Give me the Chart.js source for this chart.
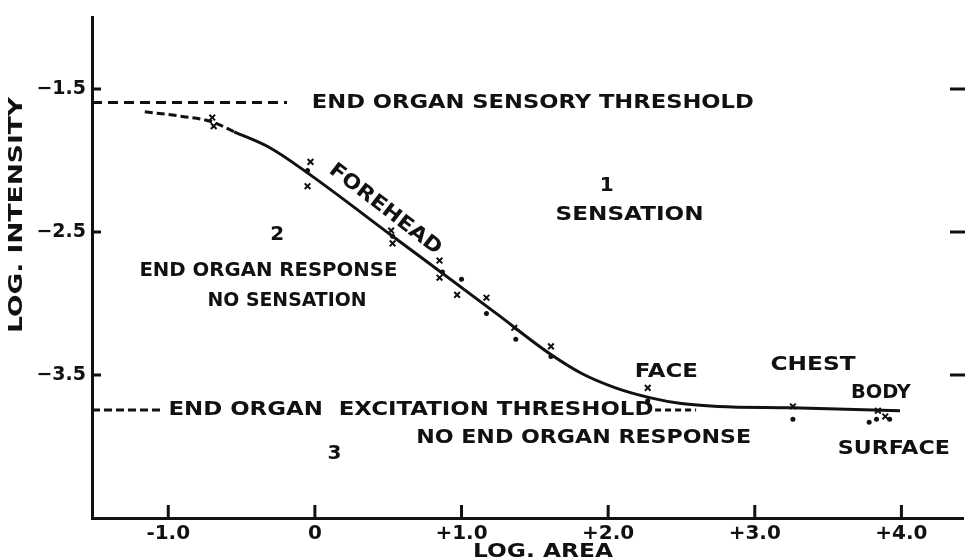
<!DOCTYPE html>
<html>
<head>
<meta charset="utf-8">
<script src="https://cdn.jsdelivr.net/npm/chart.js@4.4.1/dist/chart.umd.min.js"></script>
<style>
  html, body { margin: 0; padding: 0; background: #fff; }
  canvas { display: block; }
</style>
</head>
<body>
<canvas id="chart" width="969" height="560"></canvas>
<script>
// values: log area (x) against log intensity (y)
var curveX = [-1.16, -0.92, -0.70, -0.55, -0.31, -0.06, 0.53, 1.25, 1.60, 1.82, 2.05, 2.29, 2.50, 2.75, 3.25, 3.99];
var curveY = [-1.66, -1.69, -1.73, -1.80, -1.91, -2.08, -2.53, -3.08, -3.35, -3.49, -3.59, -3.66, -3.70, -3.72, -3.73, -3.75];

// measurements drawn as small crosses and dots
var crossX = [-0.70, -0.69, -0.03, -0.05, 0.52, 0.53, 0.85, 0.85, 0.97, 1.17, 1.36, 1.61, 2.27, 3.26, 3.84, 3.89];
var crossY = [-1.70, -1.76, -2.01, -2.18, -2.49, -2.58, -2.70, -2.82, -2.94, -2.96, -3.17, -3.30, -3.59, -3.72, -3.75, -3.79];
var dotX = [-0.05, 0.53, 0.87, 1.00, 1.17, 1.37, 1.61, 2.27, 3.26, 3.78, 3.83, 3.92];
var dotY = [-2.07, -2.53, -2.78, -2.83, -3.07, -3.25, -3.37, -3.68, -3.81, -3.83, -3.81, -3.81];

// threshold levels and where their dashed lines run
var sensoryY = -1.595;
var sensoryX = [-1.52, -0.19];
var excitationY = -3.745;
var excitationX1 = [-1.52, -1.03];
var excitationX2 = [2.32, 2.60];

var xTickValues = [-1, 0, 1, 2, 3, 4];
var xTickLabels = ['-1.0', '0', '+1.0', '+2.0', '+3.0', '+4.0'];
var yTickValues = [-3.5, -2.5, -1.5];
var yTickLabels = ['\u22123.5', '\u22122.5', '\u22121.5'];

var ink = '#111';
var FONT = '"DejaVu Sans", sans-serif';

function pts(xs, ys) {
  return xs.map(function (x, i) { return { x: x, y: Array.isArray(ys) ? ys[i] : ys }; });
}

// text on the plot, placed in data coordinates, w = printed width in px
var notes = [
  { text: 'END ORGAN SENSORY THRESHOLD', x: 1.486, y: -1.595, w: 442 },
  { text: '2', x: -0.257, y: -2.52 },
  { text: 'END ORGAN RESPONSE', x: -0.317, y: -2.77, w: 258 },
  { text: 'NO SENSATION', x: -0.19, y: -2.98, w: 159 },
  { text: '1', x: 1.99, y: -2.18 },
  { text: 'SENSATION', x: 2.146, y: -2.383, w: 148 },
  { text: 'FOREHEAD', x: 0.479, y: -2.342, w: 136, angle: 0.655 },
  { text: 'END ORGAN  EXCITATION THRESHOLD', x: 0.655, y: -3.745, w: 485 },
  { text: 'NO END ORGAN RESPONSE', x: 1.833, y: -3.94, w: 335 },
  { text: '3', x: 0.134, y: -4.05 },
  { text: 'FACE', x: 2.397, y: -3.476, w: 63 },
  { text: 'CHEST', x: 3.397, y: -3.427, w: 85 },
  { text: 'BODY', x: 3.86, y: -3.628, w: 60 },
  { text: 'SURFACE', x: 3.948, y: -4.015, w: 112 }
];

function drawText(ctx, text, cx, cy, w, font, angle) {
  ctx.save();
  ctx.font = font;
  ctx.fillStyle = ink;
  ctx.textAlign = 'center';
  ctx.textBaseline = 'middle';
  ctx.translate(cx, cy);
  if (angle) ctx.rotate(angle);
  if (w) ctx.scale(w / ctx.measureText(text).width, 1);
  ctx.fillText(text, 0, 0);
  ctx.restore();
}

var paperPlugin = {
  id: 'paper',
  afterDraw: function (chart) {
    var ctx = chart.ctx;
    var xs = chart.scales.x, ys = chart.scales.y;
    var area = chart.chartArea;
    ctx.save();
    ctx.strokeStyle = ink;
    ctx.lineWidth = 3;
    ctx.lineCap = 'butt';
    // tick marks pointing into the plot
    xTickValues.forEach(function (v) {
      var px = xs.getPixelForValue(v);
      ctx.beginPath();
      ctx.moveTo(px, area.bottom);
      ctx.lineTo(px, area.bottom - 13);
      ctx.stroke();
    });
    yTickValues.forEach(function (v) {
      var py = ys.getPixelForValue(v);
      ctx.beginPath();
      ctx.moveTo(area.left, py);
      ctx.lineTo(area.left + 9, py);
      ctx.moveTo(area.right - 13, py);
      ctx.lineTo(area.right + 2, py);
      ctx.stroke();
    });
    ctx.restore();

    notes.forEach(function (n) {
      drawText(ctx, n.text, xs.getPixelForValue(n.x), ys.getPixelForValue(n.y), n.w,
        'bold 20px ' + FONT, n.angle);
    });

    // axis titles
    drawText(ctx, 'LOG. AREA', 543, 552, 140, 'bold 19px ' + FONT);
    drawText(ctx, 'LOG. INTENSITY', 17, 215, 236, 'bold 20px ' + FONT, -Math.PI / 2);
  }
};

new Chart(document.getElementById('chart'), {
  type: 'scatter',
  data: {
    datasets: [
      {
        data: pts(curveX, curveY),
        showLine: true,
        borderColor: ink,
        borderWidth: 3,
        pointRadius: 0,
        cubicInterpolationMode: 'monotone',
        segment: {
          borderDash: function (c) { return c.p1.parsed.x <= -0.55 ? [8, 4] : undefined; }
        }
      },
      {
        data: pts(sensoryX, sensoryY),
        showLine: true, borderColor: ink, borderWidth: 3, borderDash: [10, 6], pointRadius: 0
      },
      {
        data: pts(excitationX1, excitationY),
        showLine: true, borderColor: ink, borderWidth: 3, borderDash: [8, 4], pointRadius: 0
      },
      {
        data: pts(excitationX2, excitationY),
        showLine: true, borderColor: ink, borderWidth: 3, borderDash: [6, 4], pointRadius: 0
      },
      {
        data: pts(crossX, crossY),
        pointStyle: 'crossRot', pointRadius: 4, borderWidth: 2, borderColor: ink
      },
      {
        data: pts(dotX, dotY),
        pointStyle: 'circle', pointRadius: 2.5, borderWidth: 0, backgroundColor: ink
      }
    ]
  },
  options: {
    responsive: false,
    animation: false,
    layout: { padding: { top: 12, right: 3, bottom: 0, left: 0 } },
    plugins: { legend: { display: false }, tooltip: { enabled: false } },
    scales: {
      x: {
        type: 'linear',
        min: -1.52,
        max: 4.42,
        grid: { display: false, drawTicks: false },
        border: { display: true, width: 3, color: ink },
        afterBuildTicks: function (s) { s.ticks = xTickValues.map(function (v) { return { value: v }; }); },
        afterFit: function (s) { s.height = 42; },
        ticks: {
          color: ink,
          padding: 4,
          maxRotation: 0,
          font: { family: FONT, size: 20, weight: 'bold' },
          callback: function (v) { return xTickLabels[xTickValues.indexOf(v)]; }
        }
      },
      y: {
        type: 'linear',
        min: -4.5,
        max: -1.0,
        grid: { display: false, drawTicks: false },
        border: { display: true, width: 3, color: ink },
        afterBuildTicks: function (s) { s.ticks = yTickValues.map(function (v) { return { value: v }; }); },
        afterFit: function (s) { s.width = 92; },
        ticks: {
          color: ink,
          padding: 6,
          font: { family: FONT, size: 19, weight: 'bold' },
          callback: function (v) { return yTickLabels[yTickValues.indexOf(v)]; }
        }
      }
    }
  },
  plugins: [paperPlugin]
});
</script>
</body>
</html>
